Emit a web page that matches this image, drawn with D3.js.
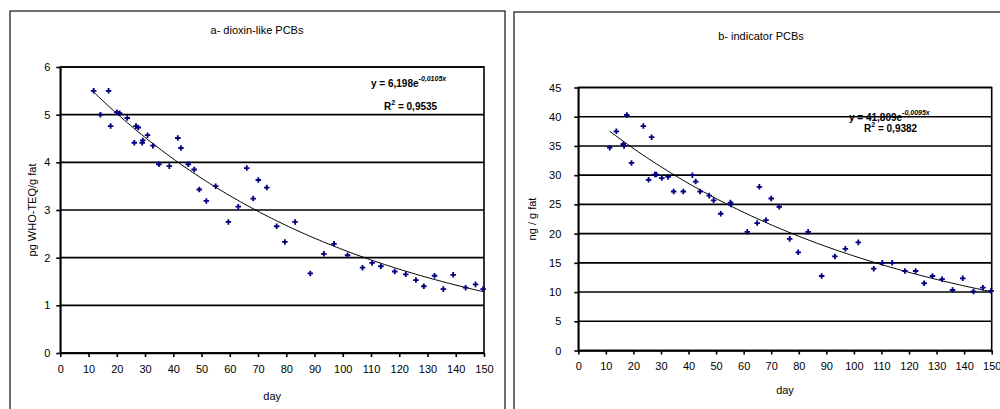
<!DOCTYPE html>
<html>
<head>
<meta charset="utf-8">
<script src="https://cdn.jsdelivr.net/npm/d3@7"></script>
<style>
  body { margin: 0; background: #fff; }
  svg { display: block; font-family: Arial, "Liberation Sans", sans-serif; }
</style>
</head>
<body>
<div id="chart"></div>
<script>
// datos: día y concentración
const dioxinDays = [11.8, 14.2, 17.1, 17.8, 20, 21, 23.7, 26.2, 26.8, 27.6, 29, 29.2, 30.9, 32.8, 34.9, 38.6, 41.6, 42.7, 45.3, 47.4,
  49.2, 51.7, 55, 59.5, 63, 66, 68.3, 70.1, 73.1, 76.6, 79.5, 83.1, 88.5, 93.3, 96.9, 101.7, 107, 110.4, 113.5,
  118.4, 122.3, 125.9, 128.7, 132.5, 135.6, 139.1, 143.5, 147, 149.7];
const dioxinValues = [5.50, 5.00, 5.50, 4.76, 5.05, 5.03, 4.93, 4.41, 4.76, 4.73, 4.41, 4.46, 4.57, 4.35, 3.96, 3.92, 4.51, 4.30, 3.96, 3.85,
  3.43, 3.19, 3.50, 2.75, 3.07, 3.88, 3.24, 3.63, 3.47, 2.66, 2.33, 2.75, 1.67, 2.08, 2.29, 2.05, 1.79, 1.89, 1.82,
  1.71, 1.65, 1.53, 1.40, 1.62, 1.34, 1.64, 1.37, 1.44, 1.34];

const indicatorDays = [11.4, 13.8, 16.3, 16.6, 17.6, 19.3, 23.6, 25.5, 26.6, 27.8, 28.3, 30.3, 32.6, 34.6, 38.1, 41.4, 42.6, 44.2,
  47.5, 49.1, 51.7, 55.2, 55.4, 61.3, 64.9, 65.7, 68.1, 70, 72.9, 76.7, 79.8, 83.4, 88.3, 93.1, 96.9, 101.6, 107.2,
  110.3, 113.9, 118.5, 122.4, 125.5, 128.5, 132, 135.8, 139.5, 143.4, 146.8, 149.8];
const indicatorValues = [34.7, 37.5, 35.3, 35.0, 40.3, 32.1, 38.4, 29.2, 36.5, 30.1, 30.1, 29.5, 29.7, 27.2, 27.2, 30.0, 28.9, 27.2,
  26.5, 25.7, 23.4, 25.3, 25.0, 20.3, 21.8, 28.0, 22.3, 26.0, 24.6, 19.1, 16.8, 20.3, 12.75, 16.1, 17.4, 18.5, 14.0,
  15.0, 15.0, 13.6, 13.6, 11.5, 12.75, 12.2, 10.35, 12.35, 10.1, 10.75, 10.2];

// coeficientes de la línea de tendencia exponencial (y = a·e^(b·x))
const dioxinFit = { a: 6.198, b: -0.0105, r2: '0,9535', lo: 11.8, hi: 150 };
const indicatorFit = { a: 41.809, b: -0.0095, r2: '0,9382', lo: 11.4, hi: 150 };

// etiquetas de los ejes
const dayTicks = d3.range(0, 151, 10);
const dioxinTicks = [0, 1, 2, 3, 4, 5, 6];
const indicatorTicks = [0, 5, 10, 15, 20, 25, 30, 35, 40, 45];

const width = 1000;
const height = 409;

const svg = d3.select('#chart')
  .append('svg')
  .attr('width', width)
  .attr('height', height);

const fmt = d3.format('d');

// pinta un panel completo
const panel = (cfg) => {
  const g = svg.append('g');

  // marco exterior
  g.append('rect')
    .attr('x', cfg.frame[0])
    .attr('y', cfg.frame[1])
    .attr('width', cfg.frame[2] - cfg.frame[0])
    .attr('height', 420 - cfg.frame[1])
    .attr('fill', 'none')
    .attr('stroke', '#222')
    .attr('stroke-width', 1.3);

  const x = d3.scaleLinear().domain([0, 150]).range([cfg.plot[0], cfg.plot[1]]);
  const y = d3.scaleLinear().domain([0, d3.max(cfg.yTicks)]).range([cfg.plot[3], cfg.plot[2]]);

  // líneas de rejilla
  g.append('g')
    .selectAll('line')
    .data(cfg.yTicks)
    .join('line')
    .attr('x1', cfg.plot[0])
    .attr('x2', cfg.plot[1])
    .attr('y1', d => y(d))
    .attr('y2', d => y(d))
    .attr('stroke', '#000')
    .attr('stroke-width', 1.6);

  // borde del área de trazado
  g.append('rect')
    .attr('x', cfg.plot[0])
    .attr('y', cfg.plot[2])
    .attr('width', cfg.plot[1] - cfg.plot[0])
    .attr('height', cfg.plot[3] - cfg.plot[2])
    .attr('fill', 'none')
    .attr('stroke', '#000')
    .attr('stroke-width', 1.6);

  // ejes
  const xAxis = d3.axisBottom(x)
    .tickValues(dayTicks)
    .tickFormat(fmt)
    .tickSize(4)
    .tickSizeOuter(0)
    .tickPadding(8);

  const yAxis = d3.axisLeft(y)
    .tickValues(cfg.yTicks)
    .tickFormat(fmt)
    .tickSize(4)
    .tickSizeOuter(0)
    .tickPadding(cfg.yPad);

  g.append('g')
    .attr('transform', `translate(0, ${cfg.plot[3]})`)
    .call(xAxis)
    .call(a => a.select('.domain').attr('stroke-width', 1.6))
    .call(a => a.selectAll('line').attr('stroke-width', 1.6))
    .selectAll('text')
    .attr('font-size', 11)
    .attr('font-family', 'Arial, "Liberation Sans", sans-serif')
    .attr('fill', '#000');

  g.append('g')
    .attr('transform', `translate(${cfg.plot[0]}, 0)`)
    .call(yAxis)
    .call(a => a.select('.domain').attr('stroke-width', 1.6))
    .call(a => a.selectAll('line').attr('stroke-width', 1.6))
    .selectAll('text')
    .attr('font-size', 11)
    .attr('font-family', 'Arial, "Liberation Sans", sans-serif')
    .attr('fill', '#000');

  // título
  g.append('text')
    .attr('x', cfg.title[1])
    .attr('y', cfg.title[2])
    .attr('text-anchor', 'middle')
    .attr('font-size', 11)
    .text(cfg.title[0]);

  // etiqueta eje x
  g.append('text')
    .attr('x', (cfg.plot[0] + cfg.plot[1]) / 2)
    .attr('y', cfg.dayY)
    .attr('text-anchor', 'middle')
    .attr('font-size', 11)
    .text('day');

  // etiqueta eje y
  g.append('text')
    .attr('transform', `translate(${cfg.yLabelX}, ${(cfg.plot[2] + cfg.plot[3]) / 2}) rotate(-90)`)
    .attr('text-anchor', 'middle')
    .attr('font-size', 11)
    .text(cfg.yLabel);

  // línea de tendencia
  const fit = cfg.fit;
  const curve = d3.range(fit.lo, fit.hi + 0.01, 1).map(d => [d, fit.a * Math.exp(fit.b * d)]);
  g.append('path')
    .datum(curve)
    .attr('fill', 'none')
    .attr('stroke', '#000')
    .attr('stroke-width', 1)
    .attr('d', d3.line().x(d => x(d[0])).y(d => y(d[1])));

  // puntos
  g.append('g')
    .selectAll('path')
    .data(cfg.days.map((d, i) => [d, cfg.values[i]]))
    .join('path')
    .attr('transform', d => `translate(${x(d[0])}, ${y(d[1])})`)
    .attr('d', d3.symbol(d3.symbolCross, 17))
    .attr('fill', '#000080');

  // ecuación
  const eq = g.append('text')
    .attr('x', cfg.eq[0])
    .attr('y', cfg.eq[1])
    .attr('font-size', 10)
    .attr('font-weight', 'bold');
  eq.append('tspan').text(`y = ${String(fit.a).replace('.', ',')}e`);
  eq.append('tspan')
    .attr('dy', -6)
    .attr('font-size', 7)
    .attr('font-style', 'italic')
    .text(`${String(fit.b).replace('.', ',')}x`);

  const r2 = g.append('text')
    .attr('x', cfg.eq[2])
    .attr('y', cfg.eq[3])
    .attr('font-size', 10)
    .attr('font-weight', 'bold');
  r2.append('tspan').text('R');
  r2.append('tspan').attr('dy', -5).attr('font-size', 7).text('2');
  r2.append('tspan').attr('dy', 5).text(` = ${fit.r2}`);
};

panel({
  frame: [10, 11, 505],
  plot: [60.3, 484, 67, 353],
  yTicks: dioxinTicks,
  yPad: 6,
  title: ['a- dioxin-like PCBs', 257, 34],
  dayY: 400,
  yLabel: 'pg WHO-TEQ/g fat',
  yLabelX: 36,
  fit: dioxinFit,
  days: dioxinDays,
  values: dioxinValues,
  eq: [371, 87, 384, 110]
});

panel({
  frame: [514, 12, 1010],
  plot: [578.3, 991.7, 87.5, 350.5],
  yTicks: indicatorTicks,
  yPad: 13,
  title: ['b- indicator PCBs', 761, 40],
  dayY: 394,
  yLabel: 'ng / g fat',
  yLabelX: 536,
  fit: indicatorFit,
  days: indicatorDays,
  values: indicatorValues,
  eq: [849, 121, 864, 132]
});
</script>
</body>
</html>
